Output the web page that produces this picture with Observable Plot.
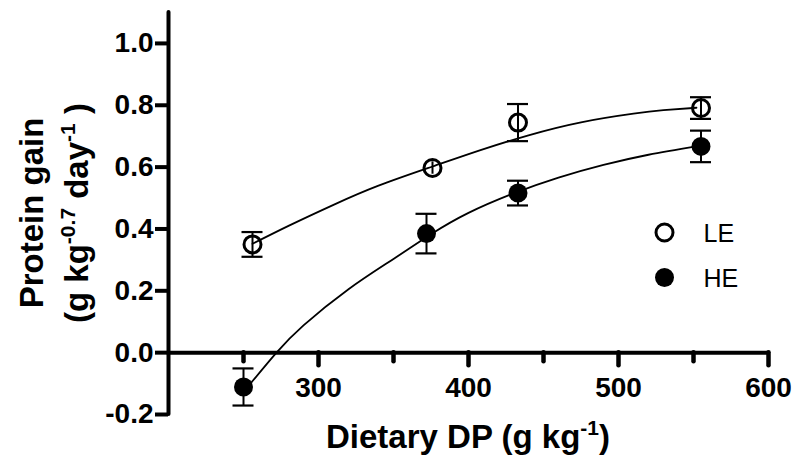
<!DOCTYPE html>
<html><head><meta charset="utf-8">
<script src="https://cdn.jsdelivr.net/npm/d3@7"></script>
<script src="https://cdn.jsdelivr.net/npm/@observablehq/plot@0.6"></script>
<style>body{margin:0;background:#fff}</style>
</head><body><div id="chart"></div>
<script>
// Observed means and error bars
const dpLE = [256, 376, 433, 555];
const gainLE = [0.350, 0.597, 0.744, 0.791];
const semLE = [0.040, 0.020, 0.060, 0.035];
const dpHE = [250, 372, 433, 555];
const gainHE = [-0.111, 0.385, 0.516, 0.667];
const semHE = [0.060, 0.064, 0.040, 0.051];
// Fitted curves
const fitLEx = [256, 280, 310, 340, 376, 408, 440, 475, 510, 530, 552];
const fitLEy = [0.352, 0.410, 0.478, 0.540, 0.602, 0.655, 0.703, 0.745, 0.773, 0.784, 0.792];
const fitHEx = [254, 272, 290, 320, 350, 375, 400, 430, 460, 490, 520, 552];
const fitHEy = [-0.104, 0.000, 0.088, 0.205, 0.303, 0.383, 0.452, 0.515, 0.566, 0.607, 0.640, 0.667];
// Axes
const xMajorTicks = [300, 400, 500, 600];
const xMinorTicks = [250, 350, 450, 550];
const yTicks = [-0.2, 0.0, 0.2, 0.4, 0.6, 0.8, 1.0];
const seriesNames = ["LE", "HE"];

const pts = (xs, ys, es, s) => xs.map((x, i) => ({series: s, x, y: ys[i], err: es[i]}));
const LE = pts(dpLE, gainLE, semLE, "LE");
const HE = pts(dpHE, gainHE, semHE, "HE");
const all = LE.concat(HE);
const caps = all.filter(d => d.err > 0.03);
const fitLE = fitLEx.map((x, i) => ({x, y: fitLEy[i]}));
const fitHE = fitHEx.map((x, i) => ({x, y: fitHEy[i]}));

const legendMarks = seriesNames.flatMap((name, i) => [
  Plot.dot([name], {frameAnchor: "right", dx: -104, dy: 19 + 45 * i,
    r: name === "LE" ? 8.5 : 9.5,
    stroke: name === "LE" ? "black" : "none", strokeWidth: 3,
    fill: name === "LE" ? "none" : "black"}),
  Plot.text([name], {frameAnchor: "right", dx: -65, dy: 20 + 45 * i, text: d => d,
    textAnchor: "start", fontSize: 25, fontWeight: "normal", fill: "black"})
]);

const chart = Plot.plot({
  width: 795, height: 462,
  marginLeft: 168, marginRight: 27, marginTop: 12, marginBottom: 48,
  x: {domain: [200, 600], axis: null},
  y: {domain: [-0.2, 1.1], axis: null},
  style: {fontFamily: "'Liberation Sans', Arial, sans-serif", fontWeight: "bold", fontSize: "28px", color: "black", background: "white"},
  marks: [
    Plot.ruleY([0], {strokeWidth: 4, strokeLinecap: "round"}),
    Plot.ruleX([200], {strokeWidth: 4, strokeLinecap: "round"}),
    Plot.ruleX(xMajorTicks, {x: d => d, y1: () => 0, y2: () => 0, strokeWidth: 4.5, insetBottom: -13, strokeLinecap: "round"}),
    Plot.ruleX(xMinorTicks, {x: d => d, y1: () => 0, y2: () => 0, strokeWidth: 4.5, insetBottom: -9, strokeLinecap: "round"}),
    Plot.text(xMajorTicks, {x: d => d, y: () => 0, text: d => String(d), dy: 35, fontSize: 28, fontWeight: "bold", fill: "black"}),
    Plot.axisY({ticks: yTicks, tickSize: 13, tickPadding: 2, strokeWidth: 4, tickFormat: d => d.toFixed(1), fontSize: 28, fontWeight: "bold", label: null}),
    Plot.line(fitLE, {x: "x", y: "y", curve: "natural", strokeWidth: 1.8, stroke: "black"}),
    Plot.line(fitHE, {x: "x", y: "y", curve: "natural", strokeWidth: 1.8, stroke: "black"}),
    Plot.ruleX(all, {x: "x", y1: d => d.y - d.err, y2: d => d.y + d.err, strokeWidth: 2, stroke: "black"}),
    Plot.ruleY(caps, {x1: "x", x2: "x", y: d => d.y + d.err, insetLeft: -10.5, insetRight: -10.5, strokeWidth: 2.2, stroke: "black"}),
    Plot.ruleY(caps, {x1: "x", x2: "x", y: d => d.y - d.err, insetLeft: -10.5, insetRight: -10.5, strokeWidth: 2.2, stroke: "black"}),
    Plot.dot(LE, {x: "x", y: "y", r: 8.5, stroke: "black", strokeWidth: 3, fill: "none"}),
    Plot.dot(HE, {x: "x", y: "y", r: 9.5, fill: "black", stroke: "none"}),
    ...legendMarks
  ]
});

const svg = d3.select(chart);
const ff = "'Liberation Sans', Arial, sans-serif";
// Y axis title (two lines, rotated)
const cy = 213;
svg.append("text").attr("transform", `translate(43,${cy}) rotate(-90)`)
  .attr("text-anchor", "middle").attr("font-family", ff).attr("font-weight", "bold").attr("font-size", 33).attr("fill", "black")
  .text("Protein gain");
const t2 = svg.append("text").attr("transform", `translate(88,${cy}) rotate(-90)`)
  .attr("text-anchor", "middle").attr("font-family", ff).attr("font-weight", "bold").attr("font-size", 33).attr("fill", "black");
t2.append("tspan").text("(g kg");
t2.append("tspan").attr("font-size", 21).attr("dy", -13).text("-0.7");
t2.append("tspan").attr("dy", 13).text(" day");
t2.append("tspan").attr("font-size", 21).attr("dy", -13).text("-1");
t2.append("tspan").attr("dy", 13).text(" )");
// X axis title
const t3 = svg.append("text").attr("x", 468).attr("y", 448)
  .attr("text-anchor", "middle").attr("font-family", ff).attr("font-weight", "bold").attr("font-size", 33).attr("fill", "black");
t3.append("tspan").text("Dietary DP (g kg");
t3.append("tspan").attr("font-size", 21).attr("dy", -13).text("-1");
t3.append("tspan").attr("dy", 13).text(")");

document.getElementById("chart").append(chart);
</script>
</body></html>
